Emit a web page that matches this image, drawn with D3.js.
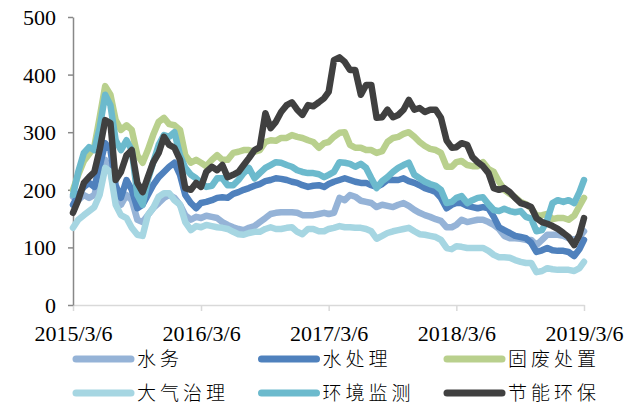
<!DOCTYPE html>
<html>
<head>
<meta charset="utf-8">
<script src="https://cdn.jsdelivr.net/npm/d3@7"></script>
<style>
  html, body { margin: 0; padding: 0; background: #fff; }
  svg { display: block; }
</style>
</head>
<body>
<svg id="chart" width="642" height="408"></svg>
<script>
// Semi-monthly observation dates
const dates = [
  "2015-03-06","2015-03-21","2015-04-06","2015-04-21","2015-05-06","2015-05-21","2015-06-06","2015-06-21",
  "2015-07-06","2015-07-21","2015-08-06","2015-08-21","2015-09-06","2015-09-21","2015-10-06","2015-10-21",
  "2015-11-06","2015-11-21","2015-12-06","2015-12-21","2016-01-06","2016-01-21","2016-02-06","2016-02-21",
  "2016-03-06","2016-03-21","2016-04-06","2016-04-21","2016-05-06","2016-05-21","2016-06-06","2016-06-21",
  "2016-07-06","2016-07-21","2016-08-06","2016-08-21","2016-09-06","2016-09-21","2016-10-06","2016-10-21",
  "2016-11-06","2016-11-21","2016-12-06","2016-12-21","2017-01-06","2017-01-21","2017-02-06","2017-02-21",
  "2017-03-06","2017-03-21","2017-04-06","2017-04-21","2017-05-06","2017-05-21","2017-06-06","2017-06-21",
  "2017-07-06","2017-07-21","2017-08-06","2017-08-21","2017-09-06","2017-09-21","2017-10-06","2017-10-21",
  "2017-11-06","2017-11-21","2017-12-06","2017-12-21","2018-01-06","2018-01-21","2018-02-06","2018-02-21",
  "2018-03-06","2018-03-21","2018-04-06","2018-04-21","2018-05-06","2018-05-21","2018-06-06","2018-06-21",
  "2018-07-06","2018-07-21","2018-08-06","2018-08-21","2018-09-06","2018-09-21","2018-10-06","2018-10-21",
  "2018-11-06","2018-11-21","2018-12-06","2018-12-21","2019-01-06","2019-01-21","2019-02-06","2019-02-21",
  "2019-03-06"
];

const seriesNames = ["水务", "水处理", "固废处置", "大气治理", "环境监测", "节能环保"];

const waterUtility = [
  188,182,191,186,191,226,252,234,186,174,
  191,182,148,144,156,168,177,186,191,186,
  174,156,148,153,151,155,153,151,144,139,
  135,132,130,134,137,144,151,158,160,161,
  161,161,160,156,156,156,158,160,158,160,
  186,182,191,188,181,179,177,170,174,172,
  170,174,177,172,165,160,156,153,149,146,
  135,135,139,148,144,146,148,148,144,139,
  132,120,116,116,115,113,113,104,113,122,
  122,122,120,116,113,118,128
];
const waterTreatment = [
  174,191,205,212,205,240,281,269,208,186,
  217,200,168,174,191,208,222,231,240,247,
  226,191,177,168,177,179,182,186,187,186,
  193,196,200,203,207,210,215,217,220,219,
  217,214,212,208,205,207,208,205,210,214,
  217,220,217,214,212,212,208,205,210,217,
  217,217,220,215,212,208,203,200,196,186,
  168,174,177,177,172,170,168,170,168,153,
  135,130,125,120,118,116,108,92,95,99,
  95,94,94,92,85,97,113
];
const solidWaste = [
  200,226,250,262,275,325,380,365,321,304,
  312,304,260,247,269,295,318,325,314,312,
  304,260,247,252,247,241,252,260,252,252,
  264,266,269,269,266,269,283,286,285,290,
  290,295,292,290,286,283,273,281,283,292,
  299,300,278,273,273,269,269,264,267,283,
  290,292,297,300,292,283,276,271,269,264,
  240,240,248,250,243,241,241,248,236,231,
  214,200,193,187,179,175,168,155,156,158,
  149,151,151,148,155,172,186
];
const airControl = [
  134,148,156,163,170,191,238,231,174,156,
  151,134,122,120,156,168,188,194,194,182,
  174,144,130,137,135,139,137,135,134,132,
  127,123,122,125,127,127,132,135,132,132,
  134,135,127,123,132,132,128,128,132,134,
  137,135,135,134,134,132,128,115,120,125,
  128,130,132,134,128,123,122,120,118,113,
  99,97,102,101,99,99,99,99,94,87,
  83,83,82,78,75,73,73,57,59,64,
  62,61,61,61,59,64,75
];
const envMonitoring = [
  191,231,264,274,269,307,365,347,286,269,
  286,269,191,174,217,247,278,295,292,300,
  260,238,226,220,212,205,207,220,220,208,
  208,217,229,238,220,229,238,243,248,247,
  243,240,234,231,229,229,227,222,226,231,
  248,247,245,240,245,238,220,203,215,222,
  231,238,243,247,226,220,214,210,207,200,
  177,179,186,189,177,182,186,187,175,165,
  163,167,163,161,163,153,150,128,130,148,
  177,182,179,182,177,196,217
];
const energySaving = [
  160,182,212,222,231,269,321,316,217,231,
  260,269,212,196,222,247,264,292,278,273,
  252,203,200,212,205,231,240,234,243,222,
  226,231,243,255,269,274,333,307,318,335,
  347,352,339,330,347,345,352,359,370,425,
  430,422,408,408,365,382,382,325,326,339,
  326,330,339,356,339,342,335,339,339,325,
  286,273,274,281,278,257,248,241,229,203,
  200,203,196,186,177,174,170,151,144,141,
  137,132,125,118,104,122,151
];

const yTicks = [0, 100, 200, 300, 400, 500];
const xTickLabels = ["2015/3/6", "2016/3/6", "2017/3/6", "2018/3/6", "2019/3/6"];

const seriesValues = [waterUtility, waterTreatment, solidWaste, airControl, envMonitoring, energySaving];
const seriesColors = ["#95b3d7", "#4f81bd", "#b9d08d", "#a6d6e2", "#6cbacd", "#404040"];

const parseDate = d3.timeParse("%Y-%m-%d");
const parseTick = d3.timeParse("%Y/%m/%d");
const dateValues = dates.map(parseDate);
const tickDates = xTickLabels.map(parseTick);

const svg = d3.select("#chart");
const margin = { left: 73, right: 58, top: 17, bottom: 103 };
const W = 642, H = 408;

const x = d3.scaleTime()
  .domain([tickDates[0], tickDates[tickDates.length - 1]])
  .range([margin.left, W - margin.right]);
const y = d3.scaleLinear()
  .domain([0, 500])
  .range([H - margin.bottom, margin.top]);

const serif = "'Liberation Serif', 'Times New Roman', serif";

// X axis (light gray, ticks pointing down)
const xAxis = svg.append("g")
  .attr("transform", `translate(0,${y(0)})`)
  .call(d3.axisBottom(x).tickValues(tickDates).tickSize(6).tickSizeOuter(0)
    .tickFormat((d, i) => xTickLabels[i]));
xAxis.select(".domain").attr("stroke", "#d9d9d9").attr("stroke-width", 1.5);
xAxis.selectAll(".tick line").attr("stroke", "#d9d9d9").attr("stroke-width", 1.5);
xAxis.selectAll(".tick text")
  .attr("font-family", serif).attr("font-size", 22).attr("fill", "#000")
  .attr("dy", 0).attr("y", 36);

// Y axis (gray, ticks pointing left)
const yAxis = svg.append("g")
  .attr("transform", `translate(${margin.left},0)`)
  .call(d3.axisLeft(y).tickValues(yTicks).tickSize(5).tickSizeOuter(0));
yAxis.select(".domain").attr("stroke", "#888").attr("stroke-width", 1.5);
yAxis.selectAll(".tick line").attr("stroke", "#888").attr("stroke-width", 1.5);
yAxis.selectAll(".tick text")
  .attr("font-family", serif).attr("font-size", 22).attr("fill", "#000")
  .attr("x", -17).attr("dy", "0.34em");

// Series lines, drawn in legend order so the last one sits on top
const line = d3.line()
  .x((d, i) => x(dateValues[i]))
  .y(d => y(d));

svg.append("g").selectAll("path")
  .data(seriesValues)
  .join("path")
  .attr("d", line)
  .attr("fill", "none")
  .attr("stroke", (d, i) => seriesColors[i])
  .attr("stroke-width", 6.5)
  .attr("stroke-linejoin", "round")
  .attr("stroke-linecap", "round");

// Legend: three columns, two rows
const legend = svg.append("g");
const colX = [76, 261.5, 447];
const rowY = [359, 393];
seriesNames.forEach((name, i) => {
  const cx = colX[i % 3], cy = rowY[Math.floor(i / 3)];
  legend.append("line")
    .attr("x1", cx).attr("x2", cx + 55)
    .attr("y1", cy).attr("y2", cy)
    .attr("stroke", seriesColors[i])
    .attr("stroke-width", 7)
    .attr("stroke-linecap", "round");
  legend.append("text")
    .attr("x", cx + 61).attr("y", cy)
    .attr("dy", "0.36em")
    .attr("font-family", "'Noto Sans CJK SC', sans-serif")
    .attr("font-weight", 300)
    .attr("font-size", 19)
    .attr("letter-spacing", 4)
    .attr("fill", "#000")
    .text(name);
});
</script>
</body>
</html>
